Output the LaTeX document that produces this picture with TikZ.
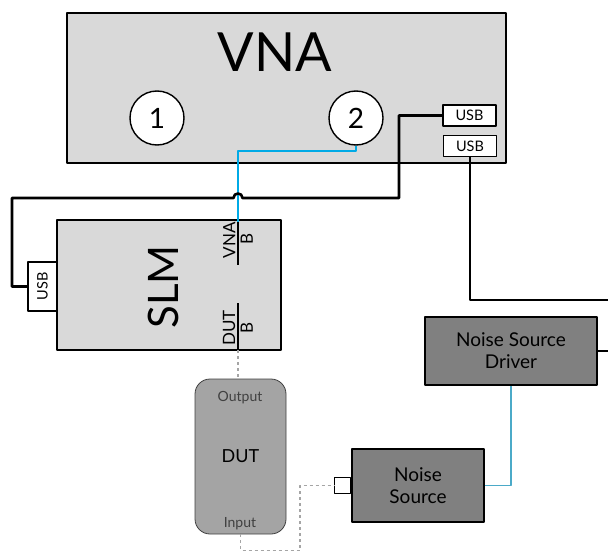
\documentclass[tikz,border=0pt]{standalone}
\usepackage{fontspec}
\setmainfont{Lato}
\usetikzlibrary{positioning,calc}
\definecolor{instgray}{RGB}{217,217,217}
\definecolor{dutgray}{RGB}{164,164,164}
\definecolor{srcgray}{RGB}{128,128,128}
\definecolor{rfblue}{RGB}{0,170,230}
\definecolor{ctrlteal}{RGB}{75,170,200}
\definecolor{coaxgray}{RGB}{165,165,165}
\newcommand{\fs}[2]{\fontsize{#1}{#2}\selectfont}

\begin{document}
\begin{tikzpicture}[x=1pt, y=-1pt, line join=round,
  instr/.style={draw, line width=1.6pt, fill=instgray, inner sep=0pt},
  port/.style={circle, draw, line width=1.4pt, fill=white, minimum size=54pt, inner sep=0pt, font=\fs{28}{28}},
  usbbox/.style={draw, line width=1.4pt, fill=white, minimum width=53pt, minimum height=21pt, inner sep=0pt, font=\fs{14.5}{14.5}},
  portlbl/.style={rotate=90, inner sep=2.5pt, font=\fs{17}{17}},
  portline/.style={line width=1.6pt},
  dutbox/.style={draw=black!75, line width=0.8pt, fill=dutgray, rounded corners=15pt, inner sep=0pt, font=\fs{18}{18}},
  dutlbl/.style={text=black!75, inner sep=0pt, font=\fs{14}{14}},
  srcbox/.style={draw, line width=1.6pt, fill=srcgray, inner sep=0pt, align=center, font=\fs{19}{22}},
  nsport/.style={draw, line width=1.4pt, fill=white, minimum size=16pt, inner sep=0pt},
  usbcable/.style={line width=2.6pt},
  rfcable/.style={rfblue, line width=1.8pt},
  ctrlcable/.style={ctrlteal, line width=1.8pt},
  coax/.style={coaxgray, line width=1.7pt, dash pattern=on 3pt off 3pt}]
  \useasboundingbox (0,0) rectangle (608,551);

  % VNA
  \node[instr, minimum width=439pt, minimum height=150pt] (vna) at (286.5,88) {};
  \node[font=\fs{54}{54}] (vnaname) at (275,52) {VNA};
  \node[port] (p1) at (157,118) {1};
  \node[port] (p2) at (356,118) {2};
  \node[usbbox] (usbA) at (469.5,115.5) {USB};
  \node[usbbox] (usbB) at (470,146) {USB};

  % SLM
  \node[instr, minimum width=224pt, minimum height=130pt] (slm) at (169,285) {};
  \node[rotate=90, font=\fs{42}{42}] (slmname) at (163,287) {SLM};
  \node[usbbox, rotate=90, minimum width=49pt, minimum height=29pt] (usbS) at (42.5,286.5) {USB};
  \coordinate (vnaB) at (238,222);
  \coordinate (vnaBend) at (238,265);
  \coordinate (dutB) at (238,303);
  \coordinate (dutBend) at (238,350);
  \draw[portline] (vnaB) -- (vnaBend);
  \draw[portline] (dutB) -- (dutBend);
  \node[portlbl, anchor=south] (vnaBname) at (238,240) {VNA};
  \node[portlbl, anchor=north] (vnaBport) at (238,239) {B};
  \node[portlbl, anchor=south] (dutBname) at (238,328) {DUT};
  \node[portlbl, anchor=north] (dutBport) at (238,328) {B};

  % DUT and noise source
  \node[dutbox, minimum width=91pt, minimum height=155pt] (dut) at (240.5,456.5) {DUT};
  \node[dutlbl] (dutout) at (240,398) {Output};
  \node[dutlbl] (dutin) at (240,524) {Input};
  \node[srcbox, minimum width=132pt, minimum height=73pt] (ns) at (418,485.5) {Noise\\Source};
  \node[nsport, left=0pt of ns] (nsin) {};
  \node[srcbox, minimum width=172pt, minimum height=68pt] (nsd) at (511,351) {Noise Source\\Driver};

  % cables
  \coordinate (edgeU) at (608,300);
  \coordinate (edgeD) at (608,351);
  \coordinate (bendA) at (399,198);
  \coordinate (bendB) at (12,198);
  \coordinate (hopR) at ($(bendA -| vnaB)+(4.5,0)$);
  \coordinate (hopL) at ($(bendA -| vnaB)+(-4.5,0)$);
  \draw[rfcable] (p2.south) -- ++(0,5) -| (vnaB);
  \draw[usbcable] (usbA.west) -| (bendA) -- (hopR)
    .. controls +(0,-6) and +(0,-6) .. (hopL) -- (bendB) |- (usbS.north);
  \draw[usbcable] (usbB.south) |- (edgeU);
  \draw[usbcable] (nsd.east) -- (edgeD);
  \draw[ctrlcable] (ns.east) -| (nsd.south);
  \draw[coax] (dutBend) -- (dutBend |- dut.north);
  \draw[coax] (dut.south) -- ++(0,16) -| ($(nsin.west)+(-34,0)$) -- (nsin.west);
\end{tikzpicture}
\end{document}
